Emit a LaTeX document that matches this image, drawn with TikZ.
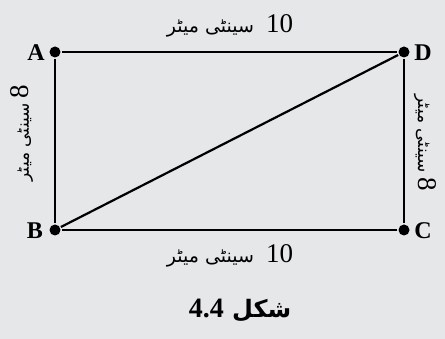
\documentclass[tikz,border=0pt]{standalone}
\usepackage{fontspec}
\setmainfont{Liberation Serif}
\newfontfamily\urdufont[Script=Arabic]{DejaVu Sans}
\TeXXeTstate=1
\usetikzlibrary{positioning}
\definecolor{PageGray}{HTML}{E6E7E9}

\begin{document}
\begin{tikzpicture}[x=1pt, y=1pt,
        dot/.style={circle, fill, inner sep=0pt, minimum size=11pt},
        corner/.style={font=\fontsize{24}{28}\selectfont\bfseries, inner sep=1pt},
        side/.style={font=\fontsize{19}{24}\selectfont, inner sep=0pt},
        upright/.style={font=\fontsize{17}{22}\selectfont, inner sep=0pt},
        line width=2.2pt]
        \fill[PageGray] (0,0) rectangle (445,-339);
        \useasboundingbox (0,0) rectangle (445,-339);

        \node[dot] (A) at (55,-52) {};
        \node[dot] (D) at (404,-52) {};
        \node[dot] (B) at (55,-230) {};
        \node[dot] (C) at (404,-230) {};
        \draw (A) -- (D); \draw (D) -- (C);
        \draw (C) -- (B); \draw (B) -- (A);
        \draw (B) -- (D);

        \node[corner] (labA) at (36,-53) {A};
        \node[corner] (labD) at (423,-53) {D};
        \node[corner] (labB) at (35,-231) {B};
        \node[corner] (labC) at (423,-231) {C};

        % side lengths
        \node[side] (top) at (230,-26) {\urdufont\beginR\beginL{\rmfamily\fontsize{27}{30}\selectfont 10}\endL\ \ سینٹی میٹر\endR};
        \node[side] (bottom) at (230,-256) {\urdufont\beginR\beginL{\rmfamily\fontsize{27}{30}\selectfont 10}\endL\ \ سینٹی میٹر\endR};
        \node[upright, rotate=90] (left) at (22,-133) {\urdufont\beginR\beginL{\rmfamily\fontsize{27}{30}\selectfont 8}\endL\ سینٹی میٹر\endR};
        \node[upright, rotate=-90] (right) at (425,-143) {\urdufont\beginR\beginL{\rmfamily\fontsize{27}{30}\selectfont 8}\endL\ سینٹی میٹر\endR};

        \node[side] (caption) at (240,-310) {\urdufont\bfseries\fontsize{24}{28}\selectfont\beginR شکل\ \beginL{\rmfamily\fontsize{28}{32}\selectfont 4.4}\endL\endR};
\end{tikzpicture}
\end{document}
